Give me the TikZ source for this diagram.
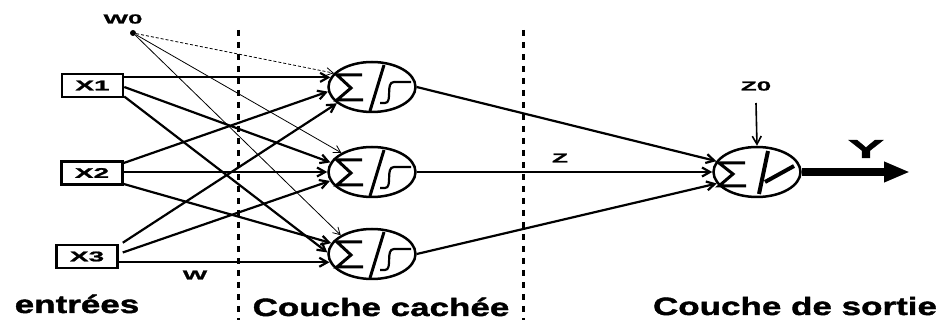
\documentclass[tikz,border=0pt]{standalone}
\usepackage{fontspec}
\usetikzlibrary{arrows.meta,shapes.geometric,calc}
\newfontfamily\bigf[FakeStretch=1.4,FakeBold=1.5]{Liberation Sans Bold}
\newfontfamily\smallf[FakeStretch=2.0,FakeBold=1.5]{Liberation Sans Bold}
\newfontfamily\yf[FakeStretch=2.1,FakeBold=1.5]{Liberation Sans Bold}
\begin{document}
\begin{tikzpicture}[x=1pt,y=-1pt,
  box/.style={draw, line width=2.5pt, minimum width=61pt, minimum height=23pt, inner sep=0pt,
    font=\smallf\fontsize{14}{16}\selectfont},
  neuron/.style={draw, ellipse, line width=2.5pt, minimum width=87pt, minimum height=50pt, inner sep=0pt},
  lbl/.style={inner sep=0pt, font=\smallf\fontsize{13}{15}\selectfont},
  ttl/.style={inner sep=0pt, anchor=base, font=\bigf\fontsize{25}{30}\selectfont},
  inarrow/.style={line width=2.2pt, -{Straight Barb[length=8pt,width=9pt]}},
  warrow/.style={line width=0.8pt, -{Straight Barb[length=7pt,width=8pt]}},
  harrow/.style={line width=2.2pt, -{Straight Barb[length=8pt,width=9pt]}},
  sep/.style={line width=3pt, dash pattern=on 6pt off 6pt},
  hsym/.pic={
    \draw[line width=3pt, line join=miter] (-10,-12) -- (-35,-12) -- (-21,1) -- (-35,13) -- (-9,13);
    \draw[line width=3pt] (12,-22) -- (-2,24);
    \draw[line width=2.2pt] (8,16) -- (13,16) .. controls (21,16) and (13,-5) .. (22,-5) -- (39,-5);
  },
  osym/.pic={
    \draw[line width=3pt, line join=miter] (-12,-9) -- (-38,-9) -- (-24,2) -- (-38,14) -- (-11,14);
    \draw[line width=4pt] (11,-21) -- (2,22);
    \draw[line width=4pt] (8,10) -- (37,-6);
  }
]
\useasboundingbox (0,0) rectangle (943,320);

% separators
\draw[sep] (238,30) -- (238,320);
\draw[sep] (523,30) -- (523,320);

% inputs
\node[box] (x1) at (92.5,85.5) {X1};
\node[box] (x2) at (92,173) {X2};
\node[box] (x3) at (87,256.5) {X3};
\node[circle, fill, inner sep=0pt, minimum size=6pt] (w0) at (133,33) {};
\node[lbl] (w0l) at (123,19) {W0};
\node[lbl] (wl) at (195,275) {W};

% hidden neurons
\node[neuron] (h1) at (372,87) {};
\node[neuron] (h2) at (372,172) {};
\node[neuron] (h3) at (372,254) {};
\pic at (h1) {hsym};
\pic at (h2) {hsym};
\pic at (h3) {hsym};

% output neuron
\node[neuron] (out) at (757,172) {};
\pic at (out) {osym};

% input connections
\draw[inarrow] (x1.east |- h1.167) -- (h1.167);
\draw[inarrow] ($(x1.east)+(0,1.5)$) -- (h2.167);
\draw[inarrow] ($(x1.east)+(0,11)$) -- (h3.178);
\draw[inarrow] ($(x2.east)+(0,-10)$) -- (h1.186);
\draw[inarrow] (x2.east |- h2.west) -- (h2.west);
\draw[inarrow] ($(x2.east)+(0,11)$) -- (h3.165);
\draw[inarrow] ($(x3.north east)+(4,-1)$) -- (h1.205);
\draw[inarrow] ($(x3.east)+(4,-4)$) -- (h2.192);
\draw[inarrow] (x3.east |- h3.191) -- (h3.191);

% bias connections
\draw[warrow, dash pattern=on 3pt off 2pt] (w0) -- (h1.160);
\draw[warrow] (w0) -- (h2.148);
\draw[warrow] (w0) -- (h3.149);

% hidden to output
\draw[harrow] (h1.east) -- (out.165);
\draw[harrow] (h2.east) -- (out.west);
\draw[harrow] (h3.east) -- (out.196);
\node[lbl] (zl) at (560,158) {Z};

% output bias and result
\node[lbl] (z0) at (756,86) {Z0};
\draw[harrow, line width=1.6pt] ($(z0.center)+(0,17)$) -- (out.north);
\coordinate (yend) at (910,172);
\draw[line width=8pt, -{Triangle[length=26pt,width=19pt]}] (out.east) -- (yend);
\node[inner sep=0pt, font=\yf\fontsize{26}{30}\selectfont] (yl) at (866,149) {Y};

% titles
\node[ttl] (t1) at (77,313) {entrées};
\node[ttl] (t2) at (381,316) {Couche cachée};
\node[ttl] (t3) at (795,315) {Couche de sortie};
\end{tikzpicture}
\end{document}
